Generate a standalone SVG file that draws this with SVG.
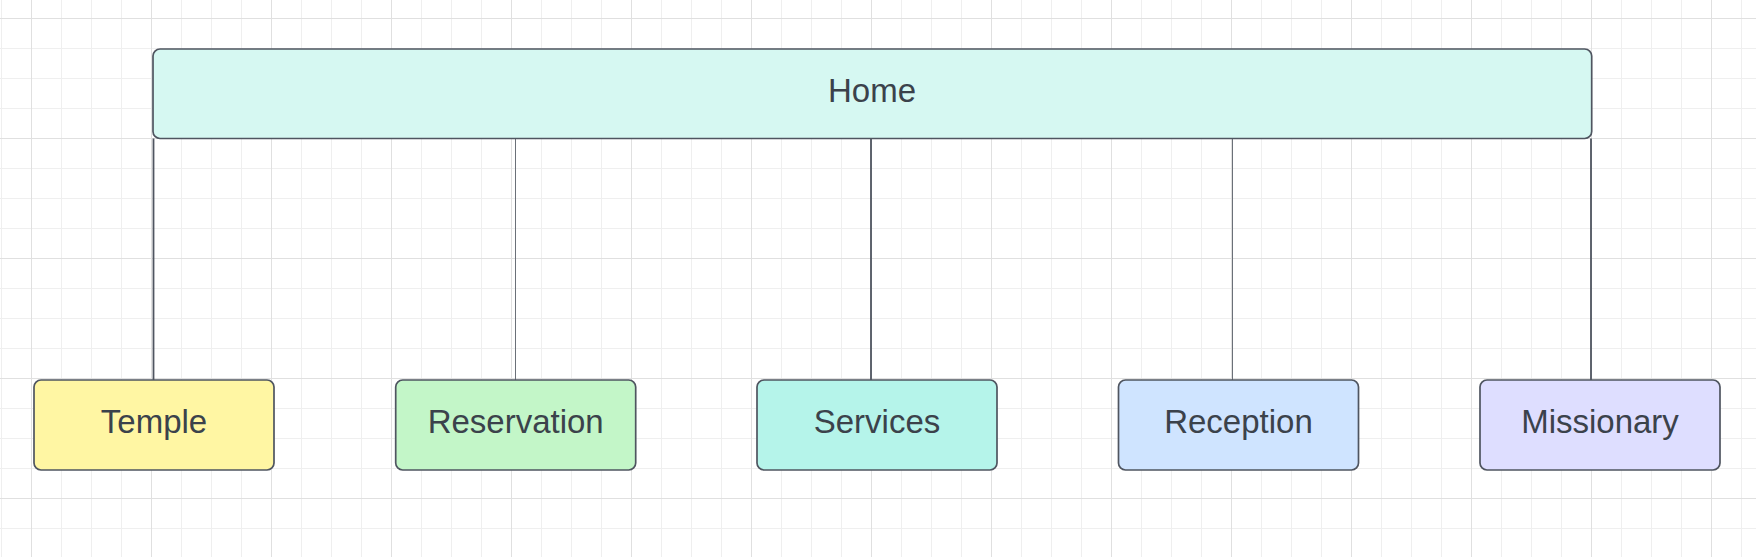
<svg xmlns="http://www.w3.org/2000/svg" width="1756" height="557" viewBox="0 0 1756 557">
  <defs>
    <pattern id="minor" patternUnits="userSpaceOnUse" x="1" y="18" width="30" height="30">
      <path d="M0.5 0V30M0 0.5H30" stroke="#efefef" stroke-width="1" fill="none"/>
    </pattern>
    <pattern id="major" patternUnits="userSpaceOnUse" x="31" y="18" width="120" height="120">
      <path d="M0.5 0V120M0 0.5H120" stroke="#e0e0e0" stroke-width="1" fill="none"/>
    </pattern>
  </defs>
  <style>
    .box { stroke: #4f5560; stroke-width: 1.7; }
    .lbl { font-family: "Liberation Sans", Arial, sans-serif; font-size: 33px; fill: #3b424b; text-anchor: middle; }
    .conn { fill: none; }
    .dark { stroke: #4f5560; stroke-width: 1.8; }
    .thin { stroke: #6b7078; stroke-width: 1; }
  </style>
  <rect width="1756" height="557" fill="#ffffff"/>
  <rect width="1756" height="557" fill="url(#minor)"/>
  <rect width="1756" height="557" fill="url(#major)"/>

  <g id="connectors" class="conn">
    <line class="dark" x1="153.5" y1="138.5" x2="153.5" y2="380"/>
    <line class="thin" x1="515.5" y1="138.5" x2="515.5" y2="380"/>
    <line class="dark" x1="871" y1="138.5" x2="871" y2="380"/>
    <line class="thin" x1="1232.5" y1="138.5" x2="1232.5" y2="380"/>
    <line class="dark" x1="1591" y1="138.5" x2="1591" y2="380"/>
  </g>

  <g id="home">
    <rect class="box" x="153" y="49" width="1438.7" height="89.5" rx="7" fill="#d6f8f2"/>
    <text class="lbl" x="872" y="102.3">Home</text>
  </g>
  <g id="temple">
    <rect class="box" x="34" y="380" width="240" height="90" rx="7" fill="#fff6a3"/>
    <text class="lbl" x="154" y="433.3">Temple</text>
  </g>
  <g id="reservation">
    <rect class="box" x="395.7" y="380" width="240" height="90" rx="7" fill="#c3f6c8"/>
    <text class="lbl" x="515.7" y="433.3">Reservation</text>
  </g>
  <g id="services">
    <rect class="box" x="757" y="380" width="240" height="90" rx="7" fill="#b5f4ea"/>
    <text class="lbl" x="877" y="433.3">Services</text>
  </g>
  <g id="reception">
    <rect class="box" x="1118.5" y="380" width="240" height="90" rx="7" fill="#cfe4ff"/>
    <text class="lbl" x="1238.5" y="433.3">Reception</text>
  </g>
  <g id="missionary">
    <rect class="box" x="1480" y="380" width="240" height="90" rx="7" fill="#dedeff"/>
    <text class="lbl" x="1600" y="433.3">Missionary</text>
  </g>
</svg>
